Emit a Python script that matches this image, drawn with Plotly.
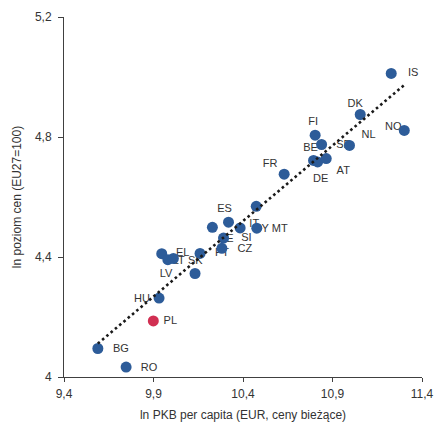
import numpy as np
import plotly.graph_objects as go

# ln GDP per capita (EUR, current prices) vs ln price level (EU27=100)
countries = ["IS", "NO", "DK", "FI", "SE", "NL", "BE", "DE", "AT", "FR",
             "IT", "ES", "EE", "CY", "MT", "SI", "CZ", "PT", "EL", "LT",
             "SK", "LV", "HU", "PL", "BG", "RO"]
ln_gdp = [11.228, 11.301, 11.055, 10.803, 10.839, 10.995, 10.794, 10.817, 10.865, 10.630,
          10.474, 10.319, 10.229, 10.384, 10.477, 10.291, 10.282, 10.160, 9.946, 9.980,
          10.011, 10.132, 9.931, 9.899, 9.589, 9.747]
ln_price = [5.012, 4.822, 4.875, 4.806, 4.775, 4.772, 4.722, 4.717, 4.728, 4.676,
            4.569, 4.516, 4.499, 4.497, 4.496, 4.463, 4.429, 4.412, 4.411, 4.391,
            4.395, 4.345, 4.263, 4.187, 4.095, 4.033]

x_ticks = [9.4, 9.9, 10.4, 10.9, 11.4]
y_ticks = [4.0, 4.4, 4.8, 5.2]
highlight = "PL"

# label placement relative to each marker, in screen pixels (dx right, dy down)
label_offset_px = {
    "IS": (22, 0), "NO": (-11, -3), "DK": (-5, -10), "FI": (-2, -13),
    "SE": (22, 1), "NL": (19, -10), "BE": (-3, -12), "DE": (3, 17),
    "AT": (17, 13), "FR": (-14, -10), "IT": (-2, 18), "ES": (-4, -13),
    "EE": (14, 12), "CY": (21, 1), "MT": (23, 1), "SI": (23, 0),
    "CZ": (23, 1), "PT": (22, 0), "EL": (21, 0), "LT": (11, 2),
    "SK": (22, 3), "LV": (-29, 1), "HU": (-17, 1), "PL": (17, 0),
    "BG": (23, 1), "RO": (23, 1),
}

W, H = 435, 428
M = dict(l=64, r=13, t=17, b=51)
x_range = [9.4, 11.4]
y_range = [4.0, 5.2]
px_x = (x_range[1] - x_range[0]) / (W - M["l"] - M["r"])
px_y = (y_range[1] - y_range[0]) / (H - M["t"] - M["b"])

lab_x = [x + label_offset_px[c][0] * px_x for c, x in zip(countries, ln_gdp)]
lab_y = [y - label_offset_px[c][1] * px_y for c, y in zip(countries, ln_price)]

blue = "#2D5C99"
red = "#D12F52"
colors = [red if c == highlight else blue for c in countries]

# linear trend fitted to the points
slope, icpt = np.polyfit(ln_gdp, ln_price, 1)
tx = np.array([min(ln_gdp), max(ln_gdp)])
ty = slope * tx + icpt

fig = go.Figure()
fig.add_trace(go.Scatter(
    x=lab_x, y=lab_y, mode="text", text=countries,
    textposition="middle center",
    textfont=dict(family="Arial, Liberation Sans, sans-serif", size=11, color="#333333"),
    hoverinfo="skip", showlegend=False, cliponaxis=False,
))
fig.add_trace(go.Scatter(
    x=ln_gdp, y=ln_price, mode="markers", text=countries,
    marker=dict(size=11, color=colors, line=dict(width=0)),
    showlegend=False, cliponaxis=False,
))
fig.add_trace(go.Scatter(
    x=tx, y=ty, mode="lines",
    line=dict(color="#1a1a1a", width=2.6, dash="2.6px,3px"),
    hoverinfo="skip", showlegend=False,
))

axis_font = dict(family="Arial, Liberation Sans, sans-serif", size=12, color="#333333")
fig.update_layout(
    width=W, height=H, margin=M,
    paper_bgcolor="white", plot_bgcolor="white",
    separators=", ",
    font=axis_font,
    xaxis=dict(
        range=x_range, tickvals=x_ticks, ticks="outside", ticklen=4,
        tickcolor="#404040", showline=True, linecolor="#404040", linewidth=1,
        showgrid=False, zeroline=False, tickfont=axis_font, automargin=False,
        ticklabelstandoff=2,
        title=dict(text="ln PKB per capita (EUR, ceny bieżące)", font=axis_font, standoff=10),
    ),
    yaxis=dict(
        range=y_range, tickvals=y_ticks, ticks="outside", ticklen=5,
        tickcolor="#404040", showline=True, linecolor="#404040", linewidth=1,
        showgrid=False, zeroline=False, tickfont=axis_font, ticklabelstandoff=4,
        automargin=False,
        title=dict(text="ln poziom cen (EU27=100)", font=axis_font, standoff=10),
    ),
)

fig.write_html("out.html")
